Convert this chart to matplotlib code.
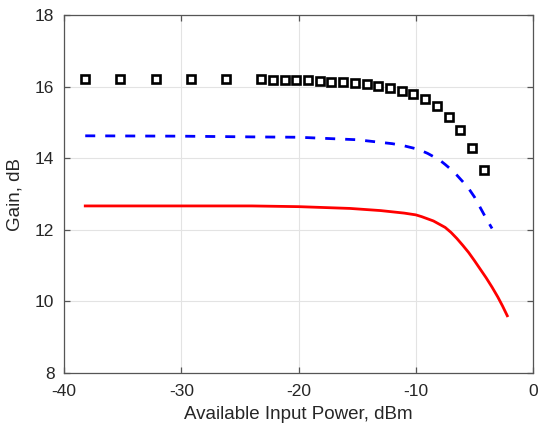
import numpy as np
import matplotlib
matplotlib.use('Agg')
import matplotlib.pyplot as plt

plt.rcParams['font.family'] = ['Liberation Sans', 'DejaVu Sans']
plt.rcParams['axes.unicode_minus'] = False
plt.rcParams['xtick.direction'] = 'in'
plt.rcParams['ytick.direction'] = 'in'
plt.rcParams['xtick.top'] = True
plt.rcParams['ytick.right'] = True

# measured gain (squares)
meas_pin = [-38.2, -35.2, -32.2, -29.2, -26.2,
            -23.2, -22.2, -21.2, -20.2, -19.2, -18.2, -17.2, -16.2, -15.2, -14.2,
            -13.2, -12.2, -11.2, -10.2, -9.2, -8.2, -7.2, -6.2, -5.2, -4.2]
meas_gain = [16.21, 16.21, 16.21, 16.21, 16.21,
             16.21, 16.19, 16.18, 16.18, 16.18, 16.16, 16.13, 16.13, 16.11, 16.08,
             16.01, 15.96, 15.89, 15.81, 15.65, 15.47, 15.16, 14.79, 14.28, 13.68]

# simulated gain, dashed blue
sim1_pin = [-38.2, -30, -24, -20, -15, -12, -11, -10, -9.5, -9, -8.5, -8, -7.5, -7,
            -6.5, -6, -5.5, -5, -4.5, -4, -3.5]
sim1_gain = [14.63, 14.62, 14.60, 14.59, 14.52, 14.41, 14.35, 14.27, 14.21, 14.14, 14.05, 13.96,
             13.83, 13.69, 13.53, 13.35, 13.16, 12.92, 12.62, 12.32, 12.04]

# simulated gain, solid red
sim2_pin = [-38.2, -30, -24, -20, -15.6, -13, -11, -10, -9.5, -9, -8.5, -8, -7.5, -7,
            -6.5, -6, -5.5, -5, -4.5, -4, -3.5, -3, -2.6, -2.2]
sim2_gain = [12.67, 12.67, 12.67, 12.65, 12.60, 12.54, 12.47, 12.42, 12.37, 12.31, 12.25, 12.16,
             12.07, 11.93, 11.76, 11.57, 11.37, 11.14, 10.90, 10.66, 10.40, 10.12, 9.87, 9.60]

fig = plt.figure(figsize=(5.39, 4.36), dpi=100)
ax = fig.add_axes([0.119, 0.1445, 0.870, 0.8205])

ax.plot(sim2_pin, sim2_gain, '-', color='red', lw=2, zorder=2)
ax.plot(sim1_pin, sim1_gain, '--', color='blue', lw=2, dashes=(3.6, 3.6), zorder=2)
ax.plot(meas_pin, meas_gain, 's', ms=5.8, mfc='white', mec='black', mew=1.9, zorder=3)

ax.set_xlim(-40, 0)
ax.set_ylim(8, 18)
ax.set_xticks([-40, -30, -20, -10, 0])
ax.set_yticks([8, 10, 12, 14, 16, 18])
ax.grid(True, color='#e3e3e3', lw=0.8)
ax.set_axisbelow(True)
for s in ax.spines.values():
    s.set_color('#555555')
    s.set_linewidth(0.9)
ax.tick_params(labelsize=12.5, colors='#555555', labelcolor='#262626', length=4, width=0.9)
ax.tick_params(axis='x', pad=8)
ax.tick_params(axis='y', pad=7)
ax.set_xlabel('Available Input Power, dBm', fontsize=13.5, color='#262626', labelpad=5)
ax.set_ylabel('Gain, dB', fontsize=13.5, color='#262626', labelpad=8)

fig.savefig('out.png', dpi=100)
